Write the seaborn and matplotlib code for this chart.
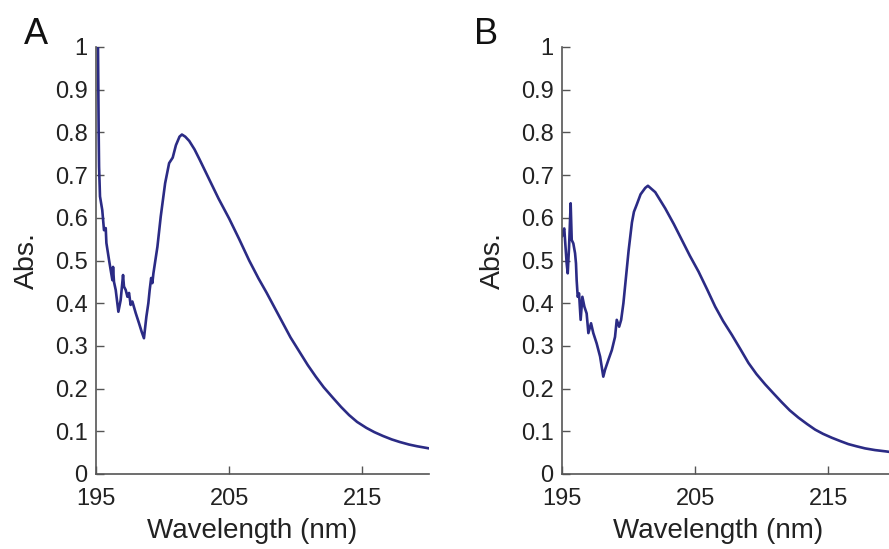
import numpy as np
import pandas as pd
import matplotlib
matplotlib.use("Agg")
import matplotlib.pyplot as plt
import seaborn as sns

# Panel A spectrum
wl_a = [195.15, 195.2, 195.23, 195.3, 195.47, 195.6, 195.73, 195.78, 195.98, 196.1, 196.23, 196.28,
        196.35, 196.48, 196.68, 196.85, 197.03, 197.1, 197.23, 197.36, 197.48, 197.6, 197.73, 197.98,
        198.23, 198.43, 198.6, 198.78, 198.93, 199.03, 199.14, 199.23, 199.31, 199.61, 199.86, 200.19,
        200.49, 200.76, 201.0, 201.27, 201.45, 201.7, 202.0, 202.4, 202.77, 203.5, 204.2,
        205.0, 205.75, 206.5, 207.2, 207.8, 208.4, 209.0, 209.6, 210.3, 210.9, 211.5, 212.1, 212.8,
        213.4, 214.0, 214.6, 215.3, 215.9, 216.55, 217.2, 217.8, 218.5, 219.1, 220.0]
abs_a = [1.00, 0.80, 0.72, 0.65, 0.618, 0.571, 0.576, 0.541, 0.501, 0.478, 0.454, 0.485,
         0.45, 0.431, 0.38, 0.407, 0.466, 0.439, 0.431, 0.415, 0.424, 0.396, 0.404, 0.377,
         0.353, 0.333, 0.318, 0.368, 0.40, 0.431, 0.459, 0.447, 0.47, 0.532, 0.603, 0.681,
         0.728, 0.741, 0.77, 0.79, 0.795, 0.79, 0.78, 0.76, 0.737, 0.69, 0.645,
         0.598, 0.55, 0.50, 0.458, 0.425, 0.39, 0.355, 0.32, 0.285, 0.255, 0.228, 0.203, 0.178,
         0.157, 0.138, 0.122, 0.108, 0.098, 0.089, 0.081, 0.075, 0.069, 0.065, 0.06]

# Panel B spectrum
wl_b = [195.0, 195.1, 195.17, 195.35, 195.43, 195.53, 195.65, 195.73, 195.85, 195.98, 196.05, 196.1,
        196.18, 196.28, 196.4, 196.53, 196.68, 196.85, 196.98, 197.18, 197.35, 197.6, 197.86, 198.1,
        198.23, 198.48, 198.74, 198.98, 199.11, 199.29, 199.44, 199.61, 200.0, 200.25, 200.4, 200.6,
        200.9, 201.25, 201.45, 202.0, 202.75, 203.4, 204.0, 204.6, 205.25, 205.9, 206.5, 207.1,
        207.75, 208.4, 209.0, 209.6, 210.25, 210.9, 211.5, 212.1, 212.75, 213.4, 214.0, 214.6,
        215.25, 215.9, 216.5, 217.1, 217.75, 218.5, 219.3, 220.0]
abs_b = [0.556, 0.571, 0.575, 0.493, 0.47, 0.532, 0.634, 0.548, 0.54, 0.517, 0.493, 0.454,
         0.415, 0.423, 0.361, 0.415, 0.392, 0.376, 0.33, 0.353, 0.33, 0.306, 0.275, 0.228,
         0.244, 0.267, 0.29, 0.321, 0.361, 0.345, 0.361, 0.40, 0.523, 0.589, 0.614, 0.63,
         0.655, 0.67, 0.675, 0.66, 0.622, 0.585, 0.548, 0.511, 0.474, 0.432, 0.392, 0.358,
         0.326, 0.292, 0.26, 0.234, 0.21, 0.188, 0.168, 0.149, 0.132, 0.117, 0.104, 0.094,
         0.085, 0.077, 0.07, 0.065, 0.06, 0.056, 0.053, 0.05]

panel_labels = ["A", "B"]
x_ticks = [195, 205, 215]
y_ticks = [0, 0.1, 0.2, 0.3, 0.4, 0.5, 0.6, 0.7, 0.8, 0.9, 1]
y_tick_labels = ["0", "0.1", "0.2", "0.3", "0.4", "0.5", "0.6", "0.7", "0.8", "0.9", "1"]

sns.set_style("ticks")
plt.rcParams["font.family"] = ["Liberation Sans", "DejaVu Sans"]

fig = plt.figure(figsize=(8.89, 5.49), dpi=100)
line_color = "#2B2B85"
axis_color = "#555555"

datasets = [(wl_a, abs_a), (wl_b, abs_b)]
lefts = [96 / 889, 562 / 889]
label_x = [-0.18, -0.228]
for i, ((wl, ab), lab) in enumerate(zip(datasets, panel_labels)):
    ax = fig.add_axes([lefts[i], 75 / 549, 333 / 889, 427 / 549])
    df = pd.DataFrame({"Wavelength": wl, "Abs": ab})
    sns.lineplot(data=df, x="Wavelength", y="Abs", ax=ax, color=line_color, linewidth=1.9,
                 estimator=None, sort=False)
    ax.set_xlim(195, 220)
    ax.set_ylim(0, 1)
    ax.set_xticks(x_ticks)
    ax.set_xticklabels([str(t) for t in x_ticks])
    ax.set_yticks(y_ticks)
    ax.set_yticklabels(y_tick_labels)
    ax.tick_params(direction="in", length=6, width=1, colors=axis_color,
                   labelcolor="#222222", labelsize=17)
    ax.tick_params(axis="x", pad=10)
    ax.tick_params(axis="y", pad=6)
    for s in ["top", "right"]:
        ax.spines[s].set_visible(False)
    for s in ["left", "bottom"]:
        ax.spines[s].set_color(axis_color)
        ax.spines[s].set_linewidth(1.2)
    ax.set_xlabel("Wavelength (nm)", fontsize=20, color="#222222")
    ax.xaxis.set_label_coords(0.47, -0.102)
    ax.set_ylabel("Abs.", fontsize=20.5, color="#222222", labelpad=11)
    ax.text(label_x[i], 1.03, lab, transform=ax.transAxes, fontsize=26, color="#111111",
            ha="center", va="center")

fig.savefig("out.png", dpi=100)
